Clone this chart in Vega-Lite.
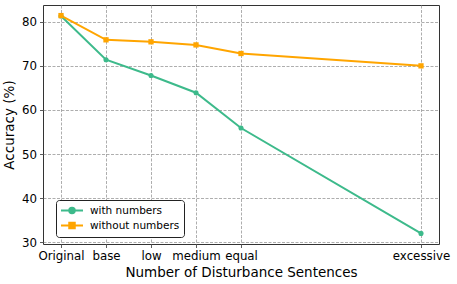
{
  "$schema": "https://vega.github.io/schema/vega-lite/v6.json",
  "width": 396,
  "height": 239,
  "autosize": {"type": "none"},
  "padding": {"left": 43, "top": 5, "right": 18, "bottom": 40},
  "background": "white",
  "data": {
    "values": [
      {"level": "Original", "series": "with numbers", "acc": 81.3},
      {"level": "base", "series": "with numbers", "acc": 71.4},
      {"level": "low", "series": "with numbers", "acc": 67.8},
      {"level": "medium", "series": "with numbers", "acc": 63.9},
      {"level": "equal", "series": "with numbers", "acc": 55.9},
      {"level": "excessive", "series": "with numbers", "acc": 32.0},
      {"level": "Original", "series": "without numbers", "acc": 81.4},
      {"level": "base", "series": "without numbers", "acc": 75.9},
      {"level": "low", "series": "without numbers", "acc": 75.45},
      {"level": "medium", "series": "without numbers", "acc": 74.75},
      {"level": "equal", "series": "without numbers", "acc": 72.8},
      {"level": "excessive", "series": "without numbers", "acc": 70.0}
    ]
  },
  "encoding": {
    "x": {
      "field": "level",
      "type": "ordinal",
      "sort": null,
      "scale": {
        "type": "point",
        "domain": ["Original", "base", "low", "medium", "equal", "_a", "_b", "_c", "excessive"],
        "padding": 0.4
      },
      "axis": {
        "values": ["Original", "base", "low", "medium", "equal", "excessive"],
        "title": "Number of Disturbance Sentences",
        "labelAngle": 0
      }
    },
    "y": {
      "field": "acc",
      "type": "quantitative",
      "scale": {"domain": [29.6, 83.8], "nice": false, "zero": false},
      "axis": {"values": [30, 40, 50, 60, 70, 80], "title": "Accuracy (%)"}
    },
    "color": {
      "field": "series",
      "type": "nominal",
      "scale": {"domain": ["with numbers", "without numbers"], "range": ["#3dba8b", "#ffa500"]},
      "legend": {
        "orient": "none",
        "legendX": 13,
        "legendY": 195,
        "title": null,
        "fillColor": "white",
        "strokeColor": "#222222",
        "cornerRadius": 3,
        "padding": 4,
        "labelFont": "DejaVu Sans",
        "labelFontSize": 10.5,
        "labelColor": "black",
        "labelOffset": 17,
        "symbolSize": 121,
        "symbolStrokeWidth": 2,
        "rowPadding": 0,
        "encode": {
          "symbols": {
            "update": {
              "shape": {"signal": "datum.value === 'with numbers' ? 'M-1,0L3,0M0.5,0A0.5,0.5 0 1,0 1.5,0A0.5,0.5 0 1,0 0.5,0Z' : 'M-1,0L3,0M0.5,-0.5L1.5,-0.5L1.5,0.5L0.5,0.5Z'"},
              "fill": {"signal": "datum.value === 'with numbers' ? '#3dba8b' : '#ffa500'"},
              "stroke": {"signal": "datum.value === 'with numbers' ? '#3dba8b' : '#ffa500'"},
              "strokeWidth": {"value": 2},
              "opacity": {"value": 1}
            }
          }
        }
      }
    }
  },
  "layer": [
    {
      "mark": {"type": "line", "strokeWidth": 2}
    },
    {
      "transform": [{"filter": "datum.series === 'with numbers'"}],
      "mark": {"type": "point", "shape": "circle", "filled": true, "opacity": 1, "size": 26}
    },
    {
      "transform": [{"filter": "datum.series === 'without numbers'"}],
      "mark": {"type": "point", "shape": "square", "filled": true, "opacity": 1, "size": 28}
    }
  ],
  "config": {
    "font": "DejaVu Sans",
    "view": {"stroke": "#333333", "strokeWidth": 1},
    "axis": {
      "domain": false,
      "grid": true,
      "gridColor": "#999999",
      "gridDash": [3, 1.5],
      "gridWidth": 0.8,
      "gridOpacity": 1,
      "ticks": true,
      "tickColor": "#333333",
      "tickSize": 3.5,
      "tickWidth": 0.8,
      "labelPadding": 3,
      "labelFont": "DejaVu Sans",
      "labelFontSize": 11.8,
      "labelColor": "black",
      "titleFont": "DejaVu Sans",
      "titleFontSize": 13.5,
      "titleFontWeight": "normal",
      "titleColor": "black"
    },
    "axisX": {"titlePadding": 3},
    "axisY": {"titlePadding": 5}
  }
}
